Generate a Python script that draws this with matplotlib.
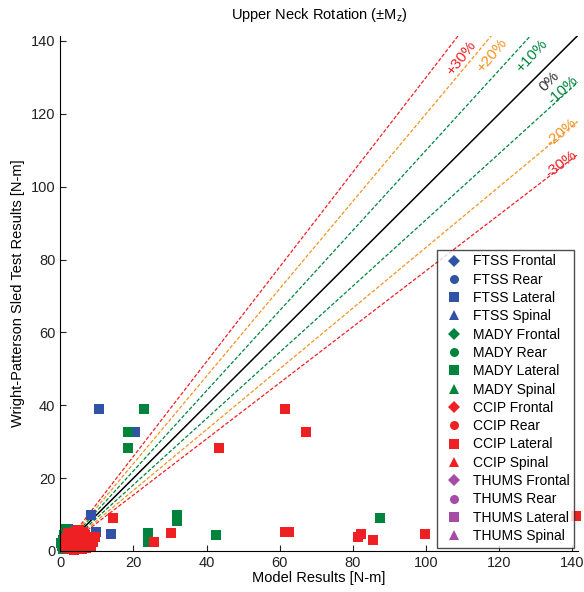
import matplotlib.pyplot as plt
import numpy as np

plt.rcParams['font.family'] = ['Liberation Sans', 'DejaVu Sans']

# measured values (Lateral impacts only show up in the reference)
ftss_x = [10.5, 20.4, 8.4, 9.8, 13.9, 2.0, 3.5, 1.5, 4.5, 2.8]
ftss_y = [39.0, 32.6, 9.9, 5.1, 4.6, 6.0, 5.8, 1.0, 5.0, 3.5]

mady_x = [22.8, 18.5, 18.5, 31.8, 31.8, 23.9, 23.9, 42.5, 87.4,
          0.5, 0.8, 1.0, 1.5, 0.6, 2.0, 1.2, 2.5, 3.0, 0.3]
mady_y = [39.0, 32.6, 28.4, 8.2, 10.0, 5.0, 2.6, 4.4, 9.0,
          1.5, 3.0, 4.5, 5.5, 0.5, 2.5, 6.0, 5.5, 4.0, 2.2]

ccip_x = [61.4, 67.1, 43.5, 14.3, 30.2, 25.5, 61.5, 62.4, 81.5, 82.2,
          85.4, 99.7, 141.1,
          1.5, 2.2, 3.0, 3.5, 4.0, 4.5, 5.0, 5.5, 6.0, 6.5, 7.0, 7.5, 8.0,
          2.5, 3.5, 4.2, 5.2, 6.2, 2.0, 1.2, 3.0, 5.8, 4.8, 8.5, 9.0, 3.8,
          2.8, 6.8, 1.8, 9.5]
ccip_y = [39.0, 32.6, 28.3, 9.0, 5.0, 2.6, 5.3, 5.3, 3.7, 4.6,
          3.0, 4.6, 9.7,
          0.8, 1.5, 0.5, 2.0, 1.2, 3.0, 4.5, 2.5, 1.0, 3.5, 0.8, 2.0, 3.0,
          3.5, 4.5, 5.5, 5.8, 5.2, 5.0, 3.2, 2.8, 0.5, 1.8, 1.2, 2.5, 0.3,
          4.8, 4.5, 2.2, 3.8]

thums_x = []
thums_y = []

dummies = ['FTSS', 'MADY', 'CCIP', 'THUMS']
impacts = ['Frontal', 'Rear', 'Lateral', 'Spinal']
markers = ['D', 'o', 's', '^']
colors = ['#3153a5', '#00843d', '#ee2024', '#a64ca6']
data = {'FTSS': (ftss_x, ftss_y), 'MADY': (mady_x, mady_y),
        'CCIP': (ccip_x, ccip_y), 'THUMS': (thums_x, thums_y)}

pcts = [30, 20, 10, 0, -10, -20, -30]
pct_colors = ['#ee2024', '#f39322', '#00843d', 'black', '#00843d', '#f39322', '#ee2024']
lab_pos = [(109.5, 135.2), (118.0, 136.0), (128.8, 136.0), (133.8, 128.8),
           (137.5, 126.4), (137.0, 115.0), (137.0, 106.3)]
lab_rot = [52, 50, 47, 45, 42, 40, 37]

lim = 141.5

fig = plt.figure(figsize=(5.84, 5.92), dpi=100)
ax = fig.add_axes([0.1033, 0.0693, 0.886, 0.8707])

for p, c, pos, rot in zip(pcts, pct_colors, lab_pos, lab_rot):
    if p > 0:
        xs = np.array([0, lim / (1 + p / 100)])
        ys = xs * (1 + p / 100)
    elif p < 0:
        xs = np.array([0, lim])
        ys = xs / (1 - p / 100)
    else:
        xs = np.array([0, lim])
        ys = xs
    if p == 0:
        ax.plot(xs, ys, color=c, lw=1.1)
    else:
        ax.plot(xs, ys, color=c, lw=0.9, linestyle=(0, (3, 1.5)))
    lab = '%+d%%' % p if p != 0 else '0%'
    ax.text(pos[0], pos[1], lab, color=c if p != 0 else '#333333', fontsize=11,
            rotation=rot, ha='center', va='center', rotation_mode='anchor')

for d, c in zip(dummies, colors):
    for imp, m in zip(impacts, markers):
        if imp == 'Lateral':
            x, y = data[d]
        else:
            x, y = [], []
        ax.plot(x, y, linestyle='none', marker=m, color=c, markersize=6.5,
                markeredgewidth=0, label=d + ' ' + imp, clip_on=False)

ax.set_xlim(0, lim)
ax.set_ylim(0, lim)
ax.set_xticks(np.arange(0, 141, 20))
ax.set_yticks(np.arange(0, 141, 20))
ax.spines['top'].set_visible(False)
ax.spines['right'].set_visible(False)
ax.tick_params(direction='in', labelsize=10.5, length=4, colors='#222222')
ax.set_xlabel('Model Results [N-m]', fontsize=10.5, labelpad=1)
ax.set_ylabel('Wright-Patterson Sled Test Results [N-m]', fontsize=10.5, labelpad=4)
ax.set_title('Upper Neck Rotation (\u00b1M$_\\mathregular{z}$)', fontsize=10.5, pad=12)

leg = ax.legend(loc='lower right', bbox_to_anchor=(0.993, 0.006), borderaxespad=0,
                fontsize=10, frameon=True, fancybox=False, labelspacing=0.31,
                handletextpad=0.4, handlelength=1.8, borderpad=0.35)
leg.get_frame().set_edgecolor('#222222')
leg.get_frame().set_linewidth(1.0)

fig.savefig('out.png', dpi=100)
